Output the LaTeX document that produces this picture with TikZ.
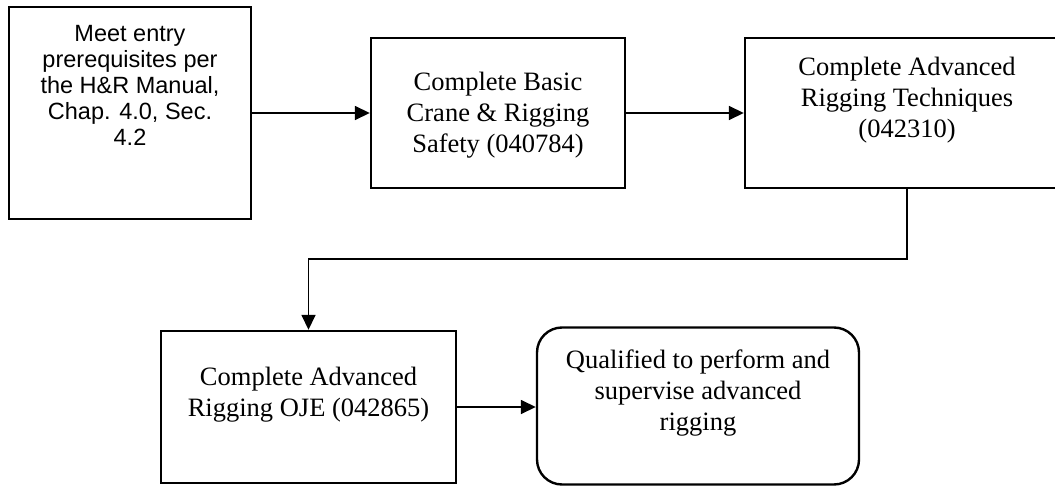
\documentclass[tikz,border=0pt]{standalone}
\usepackage{fontspec}
\setmainfont{Liberation Serif}
\newfontfamily\arialfont{Liberation Sans}
\usetikzlibrary{arrows.meta}
\tikzset{
  boxshape/.style={draw=black, line width=2.4pt, rectangle, inner sep=0pt, minimum width=#1},
  roundshape/.style={draw=black, line width=2.4pt, rectangle, rounded corners=25pt, inner sep=0pt},
  sertext/.style={align=center, anchor=base, inner sep=0pt, font=\fontsize{26.5}{31}\selectfont},
  santext/.style={align=center, anchor=base, inner sep=0pt, font=\arialfont\fontsize{23.5}{26}\selectfont},
  arr/.style={line width=1.6pt, -{Triangle[length=15pt,width=14pt]}},
}
\begin{document}
\begin{tikzpicture}[x=1pt, y=-1pt]
\useasboundingbox (0,0) rectangle (1055,487);
\fill[white] (0,0) rectangle (1055,487);
% boxes
\node[boxshape=242pt, minimum height=212pt] (b1) at (130,113) {};
\node[boxshape=254pt, minimum height=150pt] (b2) at (498,113) {};
\node[boxshape=324pt, minimum height=150pt] (b3) at (907,113) {};
\node[boxshape=295pt, minimum height=152pt] (b4) at (308.5,407) {};
\node[roundshape, minimum width=322pt, minimum height=157pt] (b5) at (698,406) {};
% texts (anchor = baseline of last line)
\node[santext] (t1) at (130,145) {Meet entry\\prerequisites per\\the H\&R Manual,\\Chap. 4.0, Sec.\\4.2};
\node[sertext] (t2) at (498,152) {Complete Basic\\Crane \& Rigging\\Safety (040784)};
\node[sertext] (t3) at (907,137) {Complete Advanced\\Rigging Techniques\\(042310)};
\node[sertext] (t4) at (308.5,416) {Complete Advanced\\Rigging OJE (042865)};
\node[sertext] (t5) at (698,430) {Qualified to perform and\\supervise advanced\\rigging};
% connectors
\coordinate (bend) at (907,259);
\draw[arr] (b1.east) -- (b2.west);
\draw[arr] (b2.east) -- (b3.west);
\draw[arr] (b3.south) -- (bend) -| (b4.north);
\draw[arr] (b4.east) -- (b4.east -| b5.west);
\end{tikzpicture}
\end{document}
